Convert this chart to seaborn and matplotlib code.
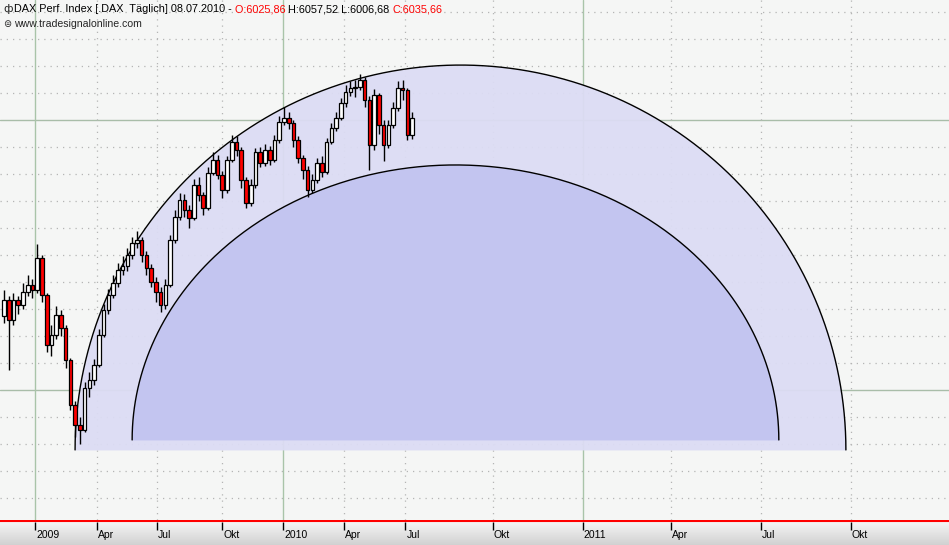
import numpy as np
import pandas as pd
import matplotlib
matplotlib.use("Agg")
import matplotlib.pyplot as plt
import seaborn as sns

sns.set_theme(style="white")
plt.rcParams['font.family'] = ['Liberation Sans', 'DejaVu Sans']

# weekly bars (Nov 2008 .. Jul 2010)
opens = [4550,4668,4520,4668,4631,4727,4779,4742,4979,4705,4335,4409,4557,4461,4224,3891,3743,3706,4017,4076,
         4187,4409,4594,4705,4794,4890,4920,5001,5090,5112,5001,4905,4801,4727,4631,4779,5112,5282,5408,5334,
         5275,5519,5445,5349,5608,5704,5593,5482,5704,5837,5778,5556,5386,5519,5763,5682,5778,5704,5852,5985,
         6015,5978,5852,5719,5630,5482,5556,5682,5615,5837,5941,6015,6126,6207,6237,6244,6296,6148,5815,6185,
         5963,5815,5963,6089,6237,6222,5889]
closes = [4668,4520,4668,4631,4727,4779,4742,4979,4705,4335,4409,4557,4461,4224,3891,3743,3706,4017,4076,4187,
          4409,4594,4705,4794,4890,4920,5001,5090,5112,5001,4905,4801,4727,4631,4779,5112,5282,5408,5334,5275,
          5519,5445,5349,5608,5704,5593,5482,5704,5837,5778,5556,5386,5519,5763,5682,5778,5704,5852,5985,6015,
          5978,5852,5719,5630,5482,5556,5682,5615,5837,5941,6015,6126,6207,6237,6244,6296,6148,5815,6185,5963,
          5815,5963,6089,6237,6222,5889,6015]
highs = [4740,4700,4720,4700,4790,4850,4820,5080,5000,4720,4480,4620,4590,4480,4240,3920,3800,4060,4130,4230,
         4450,4640,4750,4850,4940,4990,5050,5130,5180,5130,5030,4930,4840,4760,4820,5150,5330,5460,5450,5370,
         5560,5580,5470,5650,5760,5740,5620,5730,5890,5880,5800,5580,5560,5790,5800,5820,5810,5890,6030,6100,
         6060,6000,5880,5740,5660,5600,5720,5730,5870,5980,6060,6160,6260,6290,6300,6340,6320,6180,6230,6200,
         6000,6000,6130,6290,6300,6240,6060]
lows = [4500,4150,4480,4560,4600,4700,4680,4720,4650,4280,4250,4380,4400,4160,3850,3650,3600,3690,3950,4040,
        4170,4390,4560,4680,4760,4850,4880,4970,5050,4950,4850,4760,4650,4580,4600,4760,5090,5260,5280,5200,
        5260,5400,5300,5330,5590,5560,5420,5460,5690,5730,5500,5350,5360,5500,5650,5660,5670,5690,5830,5960,
        5930,5800,5680,5560,5430,5460,5530,5580,5600,5820,5920,6000,6100,6180,6170,6220,6100,5630,5780,5900,
        5700,5790,5940,6070,6150,5850,5860]

tick_labels = ["2009","Apr","Jul","Okt","2010","Apr","Jul","Okt","2011","Apr","Jul","Okt"]
tick_pos = [35,97,157,222,283,344,405,492,582,670,760,850]

# arcs: (left x, right x, base price, top price)
outer_arc = (75, 845, 3556, 6407)
inner_arc = (132, 778, 3630, 5667)

W, H = 949, 545
fig = plt.figure(figsize=(W/100, H/100), dpi=100)
fig.patch.set_facecolor("white")
ax = fig.add_axes([0, 25/H, 1, 520/H])
ax.set_facecolor("#f5f6f5")
ax.set_xlim(0, 948)
ax.set_ylim(3037, 6889)

# grid
for p in range(3200, 6900, 200):
    if p % 2000 == 0:
        ax.axhline(p, color="#a9bda9", lw=1, zorder=1)
    else:
        ax.axhline(p, color="#b5b5b5", lw=0.9, ls=(0, (1, 4)), zorder=1)
for xp, lab in zip(tick_pos, tick_labels):
    if lab.isdigit():
        ax.axvline(xp, color="#a9c4a9", lw=1, zorder=1)
    else:
        ax.axvline(xp, color="#b5b5b5", lw=0.9, ls=(0, (1, 4)), zorder=1)

def arc_pts(a):
    l, r, base, top = a
    t = np.linspace(np.pi, 0, 400)
    cx, rx = (l + r) / 2, (r - l) / 2
    return cx + rx*np.cos(t), base + (top - base)*np.sin(t)

ox, oy = arc_pts(outer_arc)
ax.fill_between(ox, outer_arc[2], oy, color="#dcdcf4", alpha=0.95, lw=0, zorder=2)
ix, iy = arc_pts(inner_arc)
ax.fill_between(ix, inner_arc[2], iy, color="#c3c5f0", lw=0, zorder=3)
sns.lineplot(x=ox, y=oy, ax=ax, color="black", lw=1, sort=False, zorder=4)
sns.lineplot(x=ix, y=iy, ax=ax, color="black", lw=1, sort=False, zorder=4)

# candles
xs = 4 + 4.74*np.arange(len(closes))
for x, o, h, l, c in zip(xs, opens, highs, lows, closes):
    ax.vlines(x, l, h, color="black", lw=1, zorder=5)
    fc = "red" if c < o else "white"
    ax.add_patch(plt.Rectangle((x-1.8, min(o, c)), 3.6, max(abs(c-o), 8),
                               facecolor=fc, edgecolor="black", lw=0.9, zorder=6))

ax.set_xticks([]); ax.set_yticks([])
for s in ax.spines.values():
    s.set_visible(False)

# bottom axis strip
bx = fig.add_axes([0, 0, 1, 25/H])
grad = np.linspace(0.97, 0.82, 50).reshape(-1, 1)
bx.imshow(grad, cmap="gray", vmin=0, vmax=1, aspect="auto", extent=[0, 948, 0, 1])
bx.set_xlim(0, 948); bx.set_ylim(0, 1)
bx.axhline(0.97, color="red", lw=1.5)
for xp, lab in zip(tick_pos, tick_labels):
    bx.vlines(xp, 0.62, 0.92, color="black", lw=1)
    bx.text(xp + 1, 0.42, lab, fontsize=7.5, va="center", ha="left", color="black")
bx.set_xticks([]); bx.set_yticks([])
for s in bx.spines.values():
    s.set_visible(False)

# header, segments laid out one after another
fig.text(3/W, 1 - 9/H, "ф", fontsize=8, va="center", family=['DejaVu Sans'])
segs = [("DAX Perf. Index [.DAX  Täglich] 08.07.2010 - ", "black"),
        ("O:6025,86 ", "red"), ("H:6057,52 L:6006,68 ", "black"), ("C:6035,66", "red")]
fig.canvas.draw()
r = fig.canvas.get_renderer()
xcur = 14 / W
for t, col in segs:
    tx = fig.text(xcur, 1 - 9/H, t, fontsize=7.8, va="center", ha="left", color=col)
    bb = tx.get_window_extent(renderer=r)
    xcur += bb.width / W
fig.text(3/W, 1 - 24/H, "⊜", fontsize=7, va="center", ha="left", family=['DejaVu Sans'])
fig.text(14/W, 1 - 24/H, "www.tradesignalonline.com", fontsize=7.6, va="center", ha="left")

fig.savefig("out.png", dpi=100)
